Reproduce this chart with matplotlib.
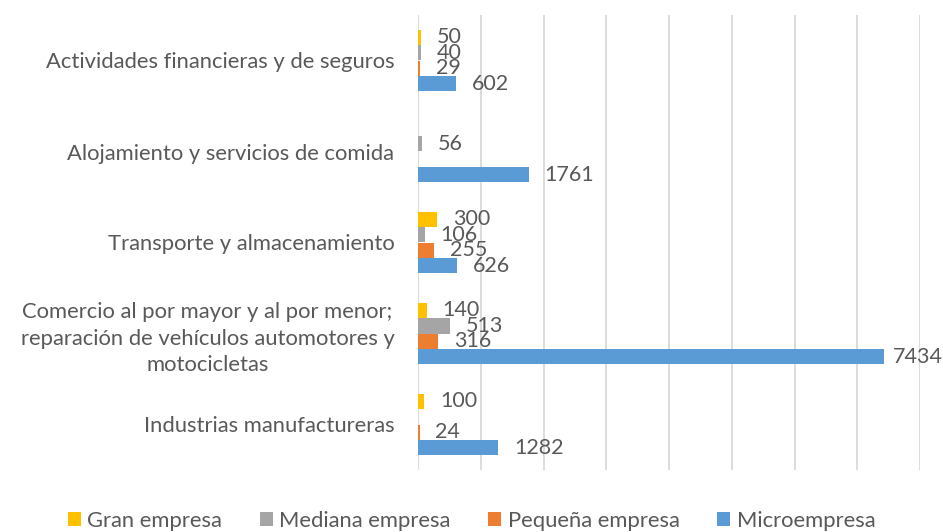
import numpy as np
import matplotlib.pyplot as plt

plt.rcParams['font.family'] = ['Lato', 'DejaVu Sans']

categorias = [
    "Actividades financieras y de seguros",
    "Alojamiento y servicios de comida",
    "Transporte y almacenamiento",
    "Comercio al por mayor y al por menor;\nreparación de vehículos automotores y\nmotocicletas",
    "Industrias manufactureras",
]
gran = [50, np.nan, 300, 140, 100]
mediana = [40, 56, 106, 513, np.nan]
pequena = [29, np.nan, 255, 316, 24]
micro = [602, 1761, 626, 7434, 1282]

series = [
    ("Gran empresa", gran, "#FFC000"),
    ("Mediana empresa", mediana, "#A5A5A5"),
    ("Pequeña empresa", pequena, "#ED7D31"),
    ("Microempresa", micro, "#5B9BD5"),
]

texto = "#595959"
fig = plt.figure(figsize=(9.43, 5.32), dpi=100)
ax = fig.add_axes([418 / 943, 1 - 470 / 532, 502 / 943, 455 / 532])

y = np.arange(len(categorias))
h = 0.17
for i, (nombre, vals, color) in enumerate(series):
    vals = np.array(vals, dtype=float)
    pos = y + (i - 1.5) * h
    ax.barh(pos, np.nan_to_num(vals), height=h, color=color, label=nombre, zorder=3)
    for yy, v in zip(pos, vals):
        if np.isnan(v):
            continue
        # the longest bar sits near the right edge, so its label gets a tighter gap
        gap = 5.8 if v > 7000 else 11.5
        ax.annotate(f"{int(v)}", (v, yy), xytext=(gap, 0), textcoords="offset points",
                    va="center", ha="left", fontsize=15.5, color=texto, zorder=4)

ax.set_xlim(0, 8000)
ax.set_ylim(len(categorias) - 0.5, -0.5)
ax.set_xticks(np.arange(0, 8001, 1000))
ax.xaxis.grid(True, color="#D9D9D9", linewidth=1.3, zorder=0)
ax.tick_params(axis="x", length=0, labelbottom=False)
ax.set_yticks(y)
ax.set_yticklabels(categorias, fontsize=15.8, color=texto, multialignment="center",
                   linespacing=1.4)
ax.tick_params(axis="y", length=0, pad=17)
for s in ax.spines.values():
    s.set_visible(False)

fig.legend(loc="center", bbox_to_anchor=(0.5, 1 - 521 / 532), ncol=4, frameon=False,
           fontsize=15.8, labelcolor=texto, handlelength=0.6, handleheight=0.6,
           handletextpad=0.3, columnspacing=1.7)

fig.savefig("out.png", dpi=100, facecolor="white")
